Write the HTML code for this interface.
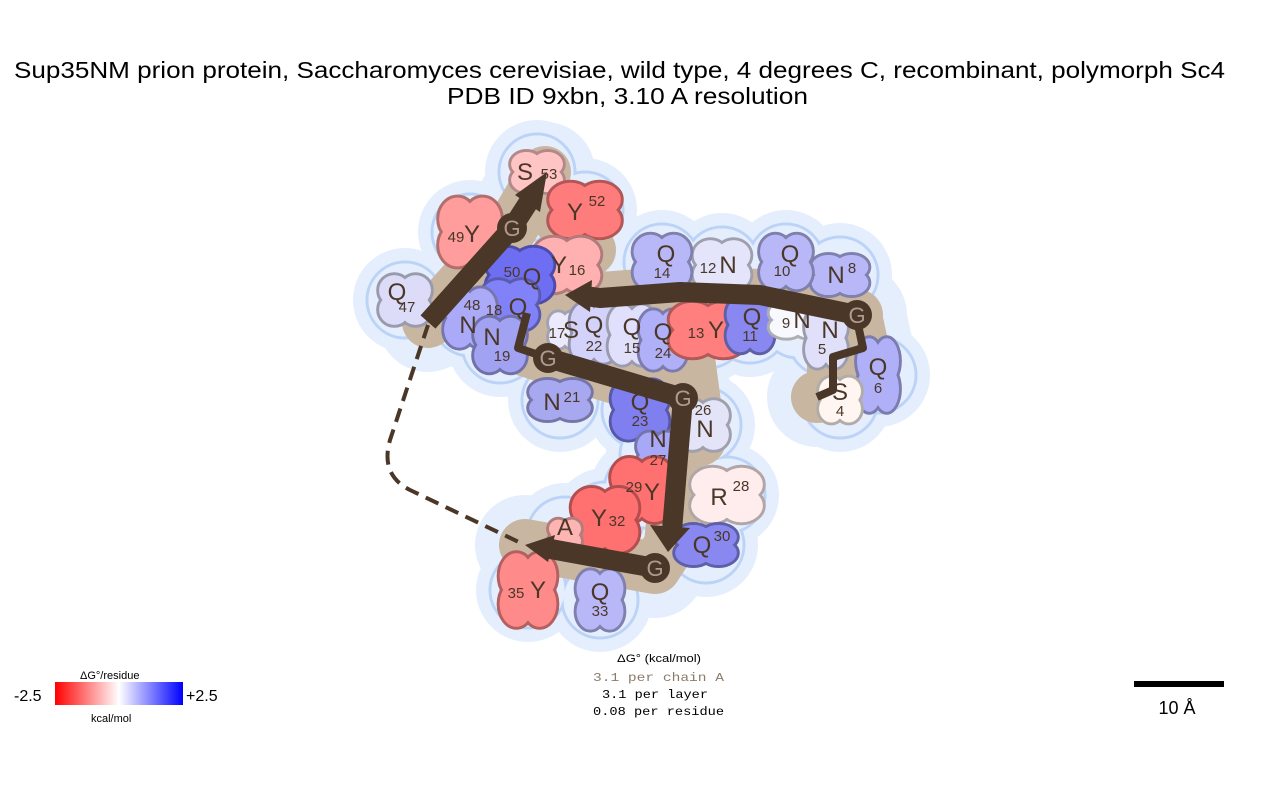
<!DOCTYPE html>
<html><head><meta charset="utf-8"><style>
body{margin:0;background:#fff;width:1269px;height:780px;overflow:hidden}
svg text{font-family:"Liberation Sans",sans-serif}
</style></head><body>
<svg id="s" width="1269" height="780" viewBox="0 0 1269 780" xmlns="http://www.w3.org/2000/svg">
<defs><linearGradient id="g" x1="0" x2="1"><stop offset="0" stop-color="#f00"/><stop offset="0.5" stop-color="#fff"/><stop offset="1" stop-color="#00f"/></linearGradient></defs>
<text x="14" y="78" font-size="23" textLength="1211" lengthAdjust="spacingAndGlyphs">Sup35NM prion protein, Saccharomyces cerevisiae, wild type, 4 degrees C, recombinant, polymorph Sc4</text>
<text x="447" y="104" font-size="23" textLength="361" lengthAdjust="spacingAndGlyphs">PDB ID 9xbn, 3.10 A resolution</text>
<g id="halo1"></g><g id="halo2"></g><g id="halo3"></g><g id="tan"></g><g id="res"></g><g id="bb"></g><g id="lab"></g>
<rect x="55" y="682" width="128" height="23" fill="url(#g)"/>
<text x="14" y="701" font-size="16">-2.5</text><text x="186" y="701" font-size="16">+2.5</text>
<text x="80" y="679" font-size="11">ΔG°/residue</text><text x="91" y="722" font-size="11">kcal/mol</text>
<text x="617" y="662" font-size="11" textLength="84" lengthAdjust="spacingAndGlyphs">ΔG° (kcal/mol)</text>
<g font-size="12"><text x="593" y="681" fill="#8b7b6b" textLength="131" lengthAdjust="spacingAndGlyphs" style="font-family:'Liberation Mono',monospace">3.1 per chain A</text><text x="602" y="698" textLength="106" lengthAdjust="spacingAndGlyphs" style="font-family:'Liberation Mono',monospace">3.1 per layer</text><text x="593" y="715" textLength="131" lengthAdjust="spacingAndGlyphs" style="font-family:'Liberation Mono',monospace">0.08 per residue</text></g>
<rect x="1134" y="681" width="90" height="6" fill="#000"/>
<text x="1177" y="714" font-size="18" text-anchor="middle">10 Å</text>
</svg>
<script>
const N="http://www.w3.org/2000/svg";
function el(p,t,a,txt){const e=document.createElementNS(N,t);for(const k in a)e.setAttribute(k,a[k]);if(txt!==undefined)e.textContent=txt;document.getElementById(p).appendChild(e);return e;}
const R=[
[537,172,"#ffc4c4","S","53",-12,8,12,7,22,18],
[585,210,"#ff7c7c","Y","52",-10,10,12,-4,30,24],
[470,232,"#ff9c9c","Y","49",2,10,-14,10,26,30],
[567,265,"#ffb0b0","Y","16",-8,8,10,10,28,24],
[520,275,"#6e6ef2","Q","50",12,10,-8,2,28,24],
[510,305,"#8282f8","Q","18",8,10,-16,10,24,22],
[405,300,"#dcdcf8","Q","47",-8,0,2,12,22,22],
[470,318,"#aaaaf8","N","48",-2,15,2,-8,22,26],
[500,345,"#a2a2f2","N","19",-8,0,2,16,22,24],
[565,330,"#eaeafc","S","17",6,8,-8,8,14,16],
[594,333,"#d2d2fa","Q","22",0,0,0,18,20,26],
[632,335,"#e0e0fc","Q","15",0,0,0,18,20,26],
[663,340,"#b0b0f8","Q","24",0,0,0,18,20,26],
[708,330,"#ff7e7e","Y","13",8,8,-12,8,32,24],
[750,325,"#8888f0","Q","11",2,0,0,16,20,24],
[798,320,"#f8f8ff","N","9",4,8,-12,8,24,16],
[826,338,"#e0e0fa","N","5",4,0,-4,16,18,26],
[878,375,"#b0b0f8","Q","6",0,0,0,18,18,32],
[840,400,"#fff6f2","S","4",0,0,0,16,18,20],
[840,275,"#b8b8f8","N","8",-4,8,12,-2,24,18],
[786,262,"#b8b8f8","Q","10",4,0,-4,14,22,24],
[722,265,"#e4e4fa","N","12",6,8,-14,8,24,22],
[662,262,"#b8b8f8","Q","14",4,0,0,16,24,24],
[560,400,"#a8a8f0","N","21",-8,10,12,2,26,18],
[640,410,"#7f7ff0","Q","23",0,0,0,16,24,26],
[703,425,"#e4e4f8","N","26",2,12,0,-10,22,22],
[658,455,"#a8a8f8","N","27",0,-8,0,10,18,20],
[727,495,"#ffecec","R","28",-8,10,14,-4,30,24],
[642,490,"#ff7070","Y","29",10,10,-8,2,26,28],
[605,520,"#ff7070","Y","32",-6,6,12,6,28,28],
[706,545,"#8888f0","Q","30",-4,8,16,-4,26,18],
[565,535,"#ffb4b4","A","",0,0,0,0,14,14],
[528,590,"#ff8a8a","Y","35",10,8,-12,8,24,32],
[600,600,"#b8b8f8","Q","33",0,0,0,16,20,26]];
function dark(c){const n=parseInt(c.slice(1),16);let r=n>>16,g=n>>8&255,b=n&255;return `rgb(${r*.7|0},${g*.7|0},${b*.7|0})`;}
R.forEach(r=>{const x=r[0],y=r[1];el("halo1","circle",{cx:x,cy:y,r:52,fill:"#e5eefd"});el("halo2","circle",{cx:x,cy:y,r:38,fill:"none",stroke:"#bcd3f8","stroke-width":3});el("halo3","circle",{cx:x,cy:y,r:36.5,fill:"#e5eefd"});});
const bbpts="M857,315 L760,295 L680,292 L600,298 L565,295 M527,313 L518,348 L548,358 L683,398 L670,545 L655,568 L525,545 M428,322 L512,228 L545,172 M817,397 L833,390 L833,357 L863,348 L857,320";
el("halo1","path",{d:bbpts,fill:"none",stroke:"#e5eefd","stroke-width":100,"stroke-linejoin":"round","stroke-linecap":"round"});
el("tan","path",{d:bbpts+" M600,298 L548,358 M590,250 L540,200 M680,292 L700,440",fill:"none",stroke:"#c9b6a1","stroke-width":52,"stroke-linejoin":"round","stroke-linecap":"round"});
R.forEach(r=>{const x=r[0],y=r[1],f=r[2],rx=r[9]*1.15,ry=r[10]*1.15;
 const pts=[[0,0],[-rx*.42,-ry*.38],[rx*.42,-ry*.38],[-rx*.42,ry*.38],[rx*.42,ry*.38]];
 pts.forEach(p=>el("res","ellipse",{cx:x+p[0],cy:y+p[1],rx:rx*.66,ry:ry*.66,fill:f,stroke:dark(f),"stroke-width":3}));
 pts.forEach(p=>el("res","ellipse",{cx:x+p[0],cy:y+p[1],rx:rx*.66-1.5,ry:ry*.66-1.5,fill:f}));
});
const B="#4a3728";
function L(d,w){el("bb","path",{d,fill:"none",stroke:B,"stroke-width":w,"stroke-linejoin":"round"});}
L("M857,315 L760,295 L680,292 L600,298 L585,296",20);
el("bb","polygon",{points:"565,295 592,280 590,312",fill:B});
L("M527,313 L518,348 L548,358",8);
L("M548,358 L683,398",20);
L("M683,398 L672,530",20);
el("bb","polygon",{points:"668,552 650,525 690,528",fill:B});
L("M655,568 L545,548",20);
el("bb","polygon",{points:"525,545 555,535 548,562",fill:B});
L("M428,322 L512,228 L530,200",20);
el("bb","polygon",{points:"547,172 540,212 515,195",fill:B});
L("M817,397 L833,390 L833,357 L863,348 L857,320",8);
el("bb","path",{d:"M428,325 L390,440 Q380,475 410,490 L525,545",fill:"none",stroke:B,"stroke-width":4,"stroke-dasharray":"14,8"});
[[512,228],[548,358],[683,398],[857,315],[655,568]].forEach(p=>{el("bb","circle",{cx:p[0],cy:p[1],r:15,fill:B});el("lab","text",{x:p[0],y:p[1]+8,"font-size":22,fill:"#b09a90","text-anchor":"middle"},"G");});
R.forEach(r=>{const [x,y,,l,n,lx,ly,nx,ny]=r;
 el("lab","text",{x:x+lx,y:y+ly,"font-size":24,fill:"#4a3728","text-anchor":"middle"},l);
 if(n)el("lab","text",{x:x+nx,y:y+ny,"font-size":15,fill:"#4a3728","text-anchor":"middle"},n);});
</script>
</body></html>
